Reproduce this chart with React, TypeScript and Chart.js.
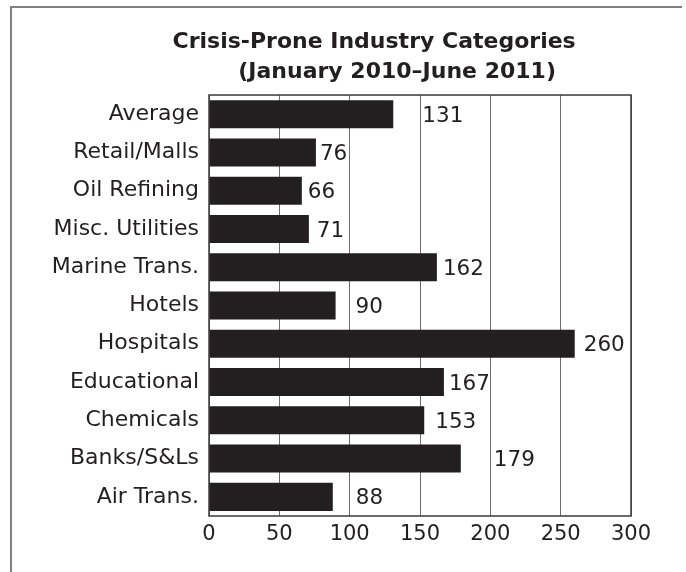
import React, { useEffect, useRef } from 'react';
import { Chart, registerables } from 'chart.js';

Chart.register(...registerables);

const categories = [
  'Average',
  'Retail/Malls',
  'Oil Refining',
  'Misc. Utilities',
  'Marine Trans.',
  'Hotels',
  'Hospitals',
  'Educational',
  'Chemicals',
  'Banks/S&Ls',
  'Air Trans.',
];
const values = [131, 76, 66, 71, 162, 90, 260, 167, 153, 179, 88];
const xMin = 0;
const xMax = 300;
const xStep = 50;
const titleLine1 = 'Crisis-Prone Industry Categories';
const titleLine2 = '(January 2010–June 2011)';

// styling: horizontal nudge (px) of each value label from its bar end
const labelNudge = [29, 4, 6, 8, 6, 20, 9, 5, 11, 33, 23];

const INK = '#231f20';
const FONT = 'DejaVu Sans';
const NB = '\u00a0';

const boxAndLabels = {
  id: 'boxAndLabels',
  afterDatasetsDraw(chart: any) {
    const { ctx, chartArea } = chart;
    const { left, top, right, bottom } = chartArea;
    ctx.save();
    ctx.strokeStyle = '#3a3a3a';
    ctx.lineWidth = 1.5;
    ctx.strokeRect(left, top, right - left, bottom - top);

    const meta = chart.getDatasetMeta(0);
    ctx.font = `21.5px "${FONT}"`;
    ctx.fillStyle = INK;
    ctx.textAlign = 'left';
    ctx.textBaseline = 'middle';
    meta.data.forEach((bar: any, i: number) => {
      ctx.fillText(String(values[i]), bar.x + labelNudge[i], bar.y + 2);
    });
    ctx.restore();
  },
};

export default function App() {
  const canvasRef = useRef<HTMLCanvasElement | null>(null);

  useEffect(() => {
    const canvas = canvasRef.current;
    if (!canvas) return;
    const chart = new Chart(canvas, {
      type: 'bar',
      data: {
        labels: categories,
        datasets: [
          {
            data: values,
            backgroundColor: INK,
            borderWidth: 0,
            barPercentage: 1,
            categoryPercentage: 0.733,
          },
        ],
      },
      options: {
        indexAxis: 'y',
        responsive: false,
        animation: false,
        devicePixelRatio: 1,
        layout: { padding: { left: 10, right: 55, top: 0, bottom: 26 } },
        plugins: {
          legend: { display: false },
          tooltip: { enabled: false },
          title: {
            display: true,
            text: [NB.repeat(14) + titleLine1, NB.repeat(20) + titleLine2],
            color: INK,
            font: { family: FONT, size: 22, weight: 'bold', lineHeight: 1.364 },
            padding: { top: 27, bottom: 8 },
          },
        },
        scales: {
          x: {
            type: 'linear',
            min: xMin,
            max: xMax,
            ticks: {
              stepSize: xStep,
              color: INK,
              font: { family: FONT, size: 21 },
              padding: 6,
              maxRotation: 0,
            },
            grid: { color: '#6d6d6d', lineWidth: 1, drawTicks: false },
            border: { display: false },
            afterFit: (s: any) => {
              s.height = 30;
            },
          },
          y: {
            type: 'category',
            ticks: {
              color: INK,
              font: { family: FONT, size: 22 },
              padding: 10,
            },
            grid: { display: false, drawTicks: false },
            border: { display: false },
            afterFit: (s: any) => {
              s.width = 199;
            },
          },
        },
      },
      plugins: [boxAndLabels],
    });
    return () => chart.destroy();
  }, []);

  return (
    <div
      style={{
        position: 'fixed',
        left: 0,
        top: 0,
        width: 686,
        height: 572,
        background: '#ffffff',
        overflow: 'hidden',
      }}
    >
      <div
        style={{
          position: 'absolute',
          left: 10,
          top: 6,
          width: 672,
          height: 566,
          boxSizing: 'border-box',
          borderTop: '2px solid #808080',
          borderLeft: '2px solid #808080',
        }}
      />
      <canvas
        ref={canvasRef}
        width={686}
        height={572}
        style={{ position: 'absolute', left: 0, top: 0, width: 686, height: 572 }}
      />
    </div>
  );
}
